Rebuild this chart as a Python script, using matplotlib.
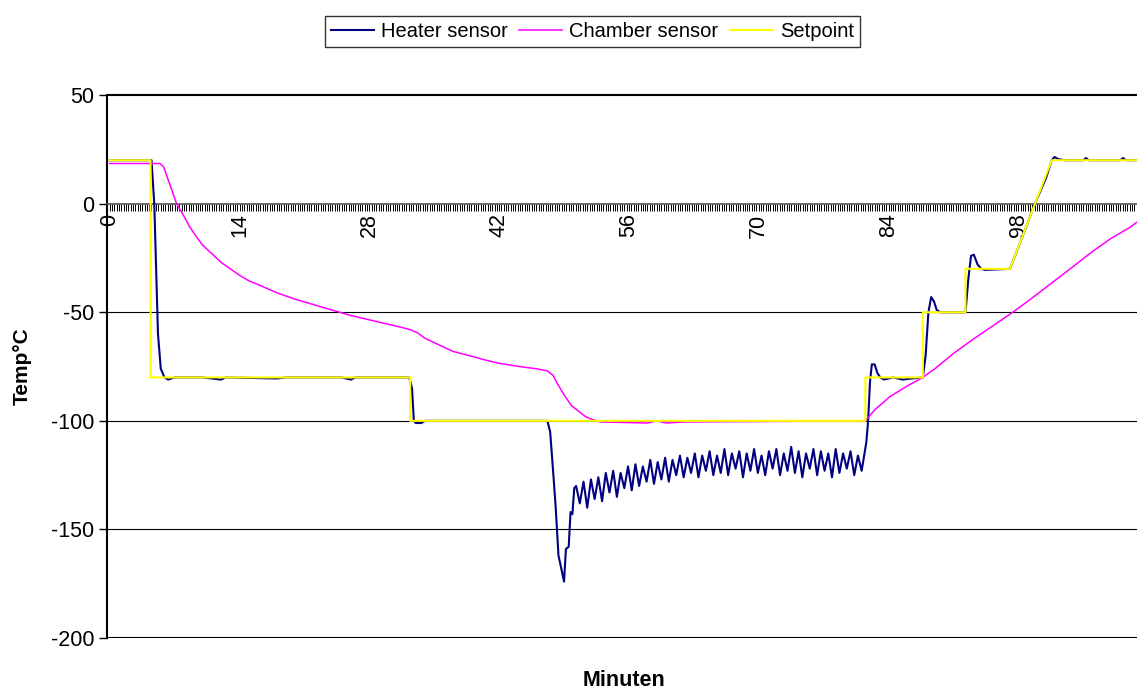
import numpy as np
import matplotlib
matplotlib.use("Agg")
import matplotlib.pyplot as plt
from matplotlib.ticker import MultipleLocator

plt.rcParams['font.family'] = ['Liberation Sans', 'DejaVu Sans']
plt.rcParams['axes.unicode_minus'] = False

# Setpoint (step profile)
sp_t = [0, 4.4, 4.4, 32.4, 32.4, 81.5, 81.5, 87.7, 87.7, 92.3, 92.3, 97.1, 101.6, 110.8]
sp_v = [20, 20, -80, -80, -100, -100, -80, -80, -50, -50, -30, -30, 20, 20]

# Heater sensor - before the oscillating part
heat_a_t = [0, 4.5, 4.8, 5.0, 5.2, 5.5, 5.9, 6.3, 7.0, 10.0, 12.0, 12.5, 18.0, 19.0,
            25.0, 26.0, 26.5, 31.0, 32.3, 32.6, 32.8, 33.0, 33.6, 34.0, 47.2, 47.5,
            47.8, 48.1, 48.4, 49.0, 49.2, 49.5, 49.7, 49.9, 50.1]
heat_a_v = [20, 20, 0, -30, -60, -76, -80, -81, -80, -80, -81, -80, -80.5, -80,
            -80, -81, -80, -80, -80, -85, -100, -101, -101, -100, -100, -105,
            -122, -140, -162, -174, -159, -158, -142, -143, -131]

# Heater sensor - oscillation while holding -100, sampled every 0.4 min from 50.3
osc_start = 50.3
osc_step = 0.4
heat_osc = [-130, -138, -128, -140, -127, -136, -126, -137, -124, -133, -123, -135,
            -124, -131, -121, -132, -120, -130, -121, -128, -118, -129, -119, -127,
            -117, -128, -118, -125, -116, -126, -117, -124, -115, -126, -116, -123,
            -114, -125, -116, -124, -113, -125, -115, -122, -114, -126, -115, -123,
            -113, -124, -116, -125, -114, -122, -113, -125, -115, -123, -112, -124,
            -114, -126, -115, -122, -113, -125, -114, -123, -115, -126, -113, -124,
            -115, -122, -114, -125, -116, -123]

# Heater sensor - warm-up steps
heat_b_t = [81.6, 81.8, 82.0, 82.2, 82.5, 82.8, 83.1, 83.5, 84.5, 85.5, 86.5, 87.7,
            88.0, 88.3, 88.6, 88.9, 89.2, 89.6, 92.3, 92.6, 92.9, 93.2, 93.6, 94.0,
            94.4, 97.1, 98.0, 99.0, 99.6, 100.2, 101.0, 101.6, 101.9, 102.3, 103.0,
            105.0, 105.3, 105.6, 109.0, 109.3, 109.6, 110.8]
heat_b_v = [-110, -100, -82, -74, -74, -78, -80, -81, -80, -81, -80.5, -80,
            -70, -50, -43, -45, -49, -50, -50, -35, -24, -23.5, -28, -30,
            -30.5, -30, -20, -9, -2, 4, 12, 20, 21.5, 20.5, 20,
            20, 21, 20, 20, 21, 20, 20]

# Chamber sensor
ch_t = [0, 5.4, 5.8, 6.3, 6.8, 7.2, 7.9, 8.6, 9.3, 10, 11, 12, 13, 14, 15, 16.4, 18,
        20, 22, 24, 26, 28, 30, 31.5, 32.4, 33.2, 34, 35.5, 37, 38.8, 40.5, 42, 44.2,
        46, 47.2, 47.8, 48.3, 49, 49.8, 50.7, 51.3, 51.8, 52.9, 58, 59, 60, 62, 81.5,
        82.5, 84.1, 86, 87.7, 89, 91, 93.1, 95, 97.4, 99, 101, 103.9, 106, 108, 110,
        110.8]
ch_v = [18.5, 18.5, 17, 11, 5, 0, -5, -10.5, -15, -19, -23, -27, -30, -33, -35.5,
        -38, -41, -44, -46.5, -49, -51.5, -53.5, -55.5, -57, -58, -59.5, -62, -65,
        -68, -70, -72, -73.5, -75, -76, -77, -79, -83, -88, -93, -96, -98, -99,
        -100.5, -101, -100, -101, -100.5, -100, -95, -89, -84, -80, -76, -69, -62.5,
        -57, -50, -45, -38.5, -29, -22, -16, -11, -8.5]

x_ticks = [0, 14, 28, 42, 56, 70, 84, 98]
y_ticks = [50, 0, -50, -100, -150, -200]

heat_osc_t = osc_start + osc_step * np.arange(len(heat_osc))
heat_t = list(heat_a_t) + list(heat_osc_t) + heat_b_t
heat_v = heat_a_v + heat_osc + heat_b_v

fig = plt.figure(figsize=(11.37, 6.89), dpi=100)
ax = fig.add_axes([0.0941, 0.074, 0.9059, 0.788])

ax.plot(heat_t, heat_v, color='#000080', lw=1.5, label='Heater sensor', zorder=3)
ax.plot(ch_t, ch_v, color='#ff00ff', lw=1.1, label='Chamber sensor', zorder=3)
ax.plot(sp_t, sp_v, color='#ffff00', lw=1.5, label='Setpoint', zorder=3)

ax.set_xlim(-0.3, 110.8)
ax.set_ylim(-200, 50)

# horizontal grid lines
for yv in [-50, -100, -150]:
    ax.axhline(yv, color='black', lw=0.8, zorder=1)
ax.axhline(-200, color='black', lw=1.5, zorder=2)

ax.spines['bottom'].set_position(('data', 0))
ax.spines['bottom'].set_color('#555555')
ax.spines['bottom'].set_linewidth(1.2)
ax.spines['right'].set_visible(False)
ax.spines['top'].set_linewidth(1.5)
ax.spines['left'].set_linewidth(1.5)

ax.set_xticks(x_ticks)
ax.set_xticklabels([str(v) for v in x_ticks])
ax.xaxis.set_minor_locator(MultipleLocator(0.25))
ax.tick_params(axis='x', which='both', direction='out', length=5, width=0.7,
               colors='black', labelsize=15.5, labelrotation=90, pad=2)
ax.set_yticks(y_ticks)
ax.tick_params(axis='y', direction='out', length=6, width=1, labelsize=15.5, pad=3)

fig.text(0.0194, 0.469, 'Temp°C', rotation=90, ha='center', va='center',
         fontsize=15, fontweight='bold')
fig.text(0.549, 0.013, 'Minuten', ha='center', va='center', fontsize=15.5,
         fontweight='bold')

leg = fig.legend(loc='center', bbox_to_anchor=(0.521, 0.954), ncol=3,
                 fontsize=14.5, frameon=True, fancybox=False, edgecolor='black',
                 handlelength=2.15, handletextpad=0.35, columnspacing=0.55,
                 borderpad=0.3)
leg.get_frame().set_linewidth(1.0)

fig.savefig('out.png', dpi=100)
